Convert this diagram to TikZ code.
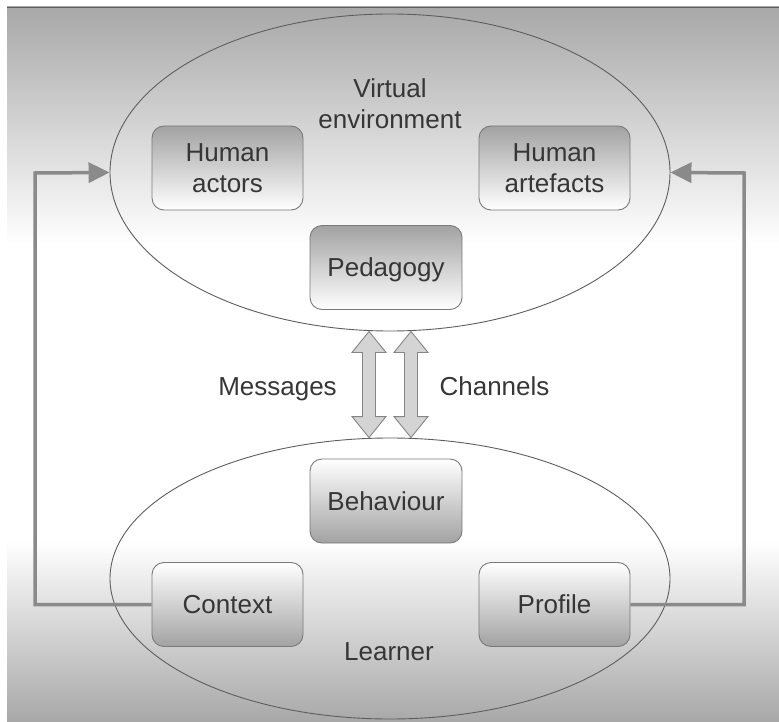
\documentclass[tikz,border=0pt]{standalone}
\usepackage{fontspec}
\setmainfont{Liberation Sans}
\usetikzlibrary{shapes.geometric,arrows.meta,calc}
\definecolor{bgg}{HTML}{A8A8A8}
\definecolor{txt}{HTML}{363636}
\definecolor{boxg}{HTML}{A2A2A2}
\definecolor{boxd}{HTML}{7A7A7A}
\definecolor{ellc}{HTML}{5E5E5E}
\definecolor{conng}{HTML}{8A8A8A}
\definecolor{arrf}{HTML}{D4D4D4}
\definecolor{arrd}{HTML}{858585}
\pgfdeclareverticalshading{bgshade}{100bp}{color(0bp)=(bgg); color(25bp)=(bgg); color(37.7bp)=(white); color(58.4bp)=(white); color(75bp)=(bgg); color(100bp)=(bgg)}
\begin{document}
\begin{tikzpicture}[x=1pt,y=-1pt,
  every node/.style={font=\fontsize{26}{31}\selectfont, text=txt},
  ell/.style={ellipse, draw=ellc, line width=0.9pt, inner sep=0pt, minimum width=560pt},
  boxbase/.style={rectangle, rounded corners=12pt, draw=boxd, line width=0.9pt,
    minimum width=151pt, minimum height=84pt, inner sep=0pt, align=center, text depth=0pt},
  upbox/.style={boxbase, top color=boxg, middle color=white, bottom color=white},
  lowbox/.style={boxbase, top color=white, middle color=white, bottom color=boxg},
  lbl/.style={inner sep=0pt},
  conn/.style={draw=conng, line width=3.5pt, line join=miter, -{Triangle[length=21pt,width=20pt]}},
  bigarrow/.style={draw=arrd, fill=arrf, line width=0.9pt, line join=miter}
]
\useasboundingbox (0,0) rectangle (779,722);
\shade[shading=bgshade] (7,7) rectangle (779,722);
\draw[ellc, line width=0.8pt] (7,7.4) -- (779,7.4);

% ellipses
\node[ell, minimum height=317pt] (upper) at (390,172.5) {};
\node[ell, minimum height=281pt] (lower) at (390,578.5) {};

% texts
\node[lbl, align=center] (ve) at (390,104) {Virtual\\environment};
\node[lbl, anchor=base] (messages) at (277.5,395) {Messages};
\node[lbl, anchor=base] (channels) at (494.5,395) {Channels};
\node[lbl, anchor=base] (learner) at (389,660) {Learner};

% boxes
\node[upbox] (actors) at (227.5,168) {Human\\actors};
\node[upbox] (artefacts) at (554.5,168) {Human\\artefacts};
\node[upbox, minimum width=152pt] (pedagogy) at (386,267.5) {Pedagogy};
\node[lowbox, minimum width=152pt] (behaviour) at (386,501) {Behaviour};
\node[lowbox] (context) at (227.5,604.5) {Context};
\node[lowbox] (profile) at (554.5,604.5) {Profile};

% double block arrows
\coordinate (a1t) at ($(upper.south)+(-21,0)$);
\coordinate (a1b) at ($(lower.north)+(-21,0)$);
\coordinate (a2t) at ($(upper.south)+(21,0)$);
\coordinate (a2b) at ($(lower.north)+(21,0)$);
\foreach \t/\b in {a1t/a1b, a2t/a2b}{
  \draw[bigarrow] (\t) -- ++(17,21) -- ++(-10.5,0) -- ($(\b)+(6.5,-21)$) -- ++(10.5,0)
    -- (\b) -- ++(-17,-21) -- ++(10.5,0) -- ($(\t)+(-6.5,21)$) -- ++(-10.5,0) -- cycle;
}

% feedback connectors
\coordinate (lx) at (35,173);
\coordinate (rx) at (744,173);
\draw[conn] (context.west) -| (lx) -- (upper.west);
\draw[conn] (profile.east) -| (rx) -- (upper.east);
\end{tikzpicture}
\end{document}
